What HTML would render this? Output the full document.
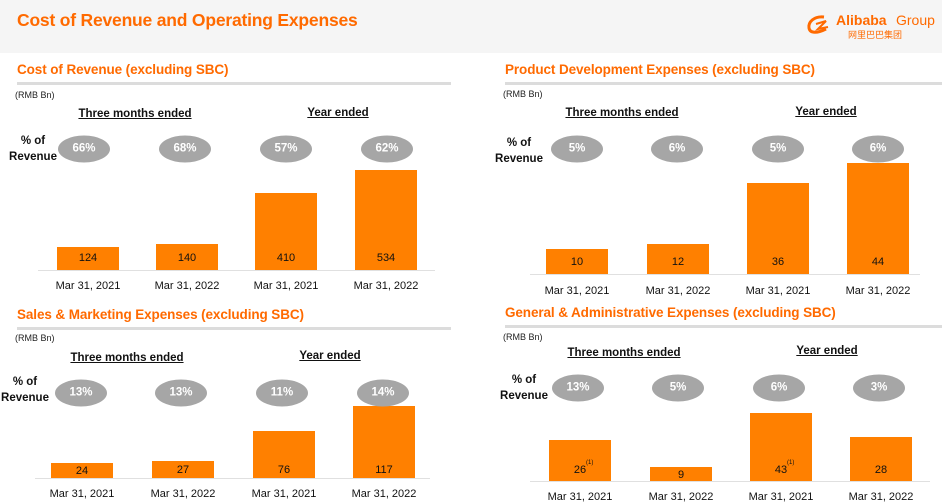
<!DOCTYPE html>
<html><head><meta charset="utf-8"><style>
body{margin:0;width:942px;height:504px;overflow:hidden;background:#fff;font-family:"Liberation Sans","Noto Sans CJK SC",sans-serif;position:relative}
.a{position:absolute;white-space:nowrap}
.hdr{left:0;top:0;width:942px;height:53px;background:#f5f5f5}
.ttl{left:17px;top:10px;font-size:17.5px;font-weight:bold;color:#ff6a00;letter-spacing:-0.2px}
.st{font-size:13.5px;font-weight:bold;color:#ff6a00;letter-spacing:-0.1px}
.rule{height:3px;background:#dcdcdc}
.rmb{font-size:9px;color:#222}
.grp{font-size:11.5px;font-weight:bold;color:#111;text-decoration:underline;transform:translateX(-50%)}
.pct{font-size:11.5px;font-weight:bold;color:#111;text-align:center;line-height:16px}
.ell{width:52px;height:27px;border-radius:50%;background:#a6a6a6;color:#fff;font-size:11.5px;font-weight:bold;text-align:center;line-height:27px;transform:translate(-50%,-50%)}
.bar{background:#ff8000}
.val{font-size:11px;color:#111;transform:translateX(-50%)}
.sup{font-size:6px;color:#111}
.axis{height:1px;background:#e0e0e0}
.dt{font-size:11px;color:#111;transform:translateX(-50%)}
</style></head><body>
<div class="a hdr"></div>
<div class="a ttl">Cost of Revenue and Operating Expenses</div>
<div class="a" style="left:806px;top:12px;width:135px;height:26px">
<svg width="28" height="22" style="position:absolute;left:0;top:2px" viewBox="0 0 28 22"><path d="M18 3 C8 2 2 8 3 14 C4 20 12 19 20 15" stroke="#ff6a00" stroke-width="3" fill="none"/><path d="M10 10 L20 7 L12 15 L22 13" stroke="#ff6a00" stroke-width="2" fill="none"/></svg>
<span class="a" style="left:30px;top:0;font-size:14px;font-weight:bold;color:#ff6a00">Alibaba</span><span class="a" style="left:90px;top:0;font-size:14px;color:#ff6a00">Group</span>
<span class="a" style="left:42px;top:16px;font-size:9px;color:#ff6a00">网里巴巴集团</span>
</div>
<div id="root"></div>
<script>
const categories=["Mar 31, 2021","Mar 31, 2022","Mar 31, 2021","Mar 31, 2022"];
const corValues=[124,140,410,534];
const corPct=["66%","68%","57%","62%"];
const pdValues=[10,12,36,44];
const pdPct=["5%","6%","5%","6%"];
const smValues=[24,27,76,117];
const smPct=["13%","13%","11%","14%"];
const gaValues=[26,9,43,28];
const gaPct=["13%","5%","6%","3%"];
const gaNotes=["(1)","","(1)",""];

const panels=[
 {name:"cost-of-revenue",title:"Cost of Revenue (excluding SBC)",tx:17,ty:62,ruleW:434,rmbY:90,g1x:135,g1y:108,g2x:338,g2y:107,pctX:8,pctY:133,ellY:149,ellX:[84,185,286,387],barX:[88,187,286,386],base:270,scale:100/534,axis:[38,435],dtY:280,vals:corValues,pct:corPct,notes:null,valY:251},
 {name:"product-development",title:"Product Development Expenses (excluding SBC)",tx:505,ty:62,ruleW:437,rmbY:89,g1x:622,g1y:107,g2x:826,g2y:106,pctX:494,pctY:135,ellY:149,ellX:[577,677,778,878],barX:[577,678,778,878],base:274,scale:111/44,axis:[530,920],dtY:285,vals:pdValues,pct:pdPct,notes:null,valY:255},
 {name:"sales-marketing",title:"Sales & Marketing Expenses (excluding SBC)",tx:17,ty:307,ruleW:434,rmbY:333,g1x:127,g1y:352,g2x:330,g2y:350,pctX:0,pctY:374,ellY:393,ellX:[81,181,282,383],barX:[82,183,284,384],base:478,scale:72/117,axis:[35,430],dtY:488,vals:smValues,pct:smPct,notes:null,valY:463},
 {name:"general-administrative",title:"General & Administrative Expenses (excluding SBC)",tx:505,ty:305,ruleW:437,rmbY:332,g1x:624,g1y:347,g2x:827,g2y:345,pctX:499,pctY:372,ellY:388,ellX:[578,678,779,879],barX:[580,681,781,881],base:481,scale:68/43,axis:[530,930],dtY:491,vals:gaValues,pct:gaPct,notes:gaNotes,valY:463}
];
const root=document.getElementById('root');
function mk(cls,style,text){const e=document.createElement('div');e.className='a '+cls;e.style.cssText=style;if(text!=null)e.textContent=text;root.appendChild(e);return e;}
panels.forEach(p=>{
 let e;
 e=mk('st',`left:${p.tx}px;top:${p.ty}px`,p.title);
 
 
 e=mk('rule',`left:${p.tx}px;top:${p.ty+20}px;width:${p.ruleW}px`);
 
 
 e=mk('rmb',`left:${p.tx-2}px;top:${p.rmbY}px`,'(RMB Bn)');
 
 
 e=mk('grp',`left:${p.g1x}px;top:${p.g1y}px`,'Three months ended');
 
 
 e=mk('grp',`left:${p.g2x}px;top:${p.g2y}px`,'Year ended');
 
 
 e=mk('pct',`left:${p.pctX}px;top:${p.pctY}px;width:50px`);
 e.innerHTML='% of<br>Revenue';
 
 
 e=mk('axis',`left:${p.axis[0]}px;top:${p.base}px;width:${p.axis[1]-p.axis[0]}px`);
 
 
 p.vals.forEach((v,i)=>{
  const h=v*p.scale, cx=p.barX[i];
  let b=mk('bar',`left:${cx-31}px;top:${p.base-h}px;width:62px;height:${h}px`);
  
  
  let ty=p.base-h>p.valY ? p.base-h+2 : p.valY+1;
  let t=mk('val',`left:${cx}px;top:${ty}px`,String(v));
  
  
  if(p.notes&&p.notes[i]){
   let s=mk('sup',`left:${cx+6}px;top:${ty-4}px`,p.notes[i]);
   
   
  }
  let el=mk('ell',`left:${p.ellX[i]}px;top:${p.ellY}px`,p.pct[i]);
  
  
  let d=mk('dt',`left:${cx}px;top:${p.dtY}px`,categories[i]);
  
  
 });
});
</script>
</body></html>
